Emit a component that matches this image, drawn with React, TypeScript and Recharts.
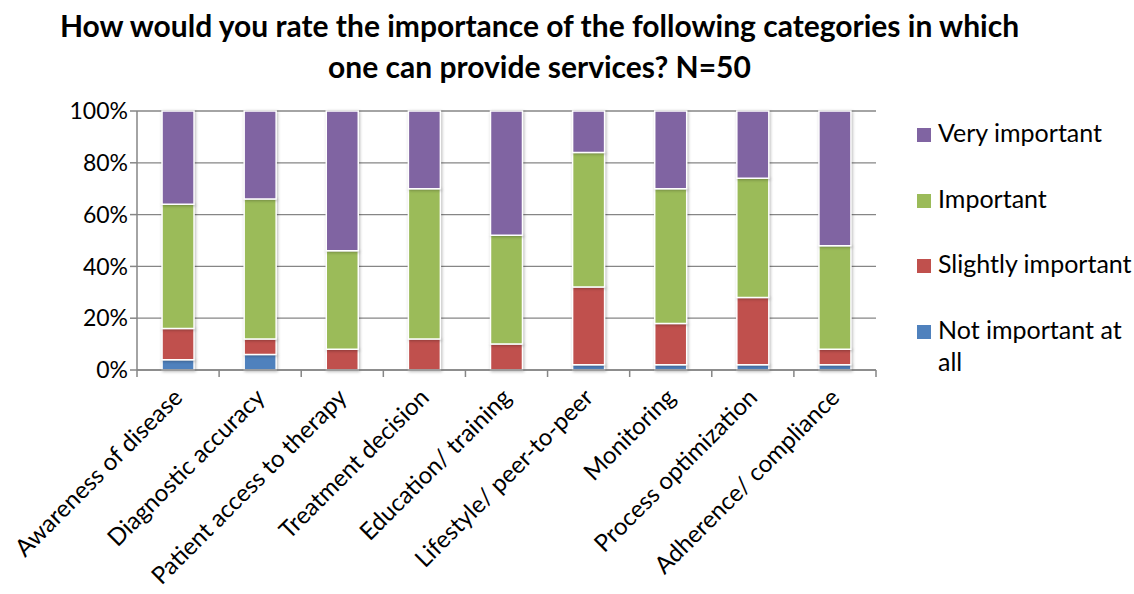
import React from "react";
import { Bar, BarChart, CartesianGrid, XAxis, YAxis } from "recharts";

const categories = [
  "Awareness of disease",
  "Diagnostic accuracy",
  "Patient access to therapy",
  "Treatment decision",
  "Education/ training",
  "Lifestyle/ peer-to-peer",
  "Monitoring",
  "Process optimization",
  "Adherence/ compliance",
];

// share of respondents per answer, in %
const notImportant = [4, 6, 0, 0, 0, 2, 2, 2, 2];
const slightlyImportant = [12, 6, 8, 12, 10, 30, 16, 26, 6];
const important = [48, 54, 38, 58, 42, 52, 52, 46, 40];
const veryImportant = [36, 34, 54, 30, 48, 16, 30, 26, 52];

const yTicks = [0, 20, 40, 60, 80, 100];

const series = [
  { key: "notImportant", name: "Not important at all", color: "#4F81BD" },
  { key: "slightly", name: "Slightly important", color: "#C0504D" },
  { key: "important", name: "Important", color: "#9BBB59" },
  { key: "very", name: "Very important", color: "#8064A2" },
];

const data = categories.map((name, i) => ({
  name,
  notImportant: notImportant[i],
  slightly: slightlyImportant[i],
  important: important[i],
  very: veryImportant[i],
}));

const FONT = "Lato, 'Open Sans', sans-serif";
const AXIS = "#868686";
const PLOT_LEFT = 137;
const PLOT_RIGHT = 876;
const BAND = (PLOT_RIGHT - PLOT_LEFT) / categories.length;

function CategoryTick(props: any) {
  const { x, y, payload, index } = props;
  const left = x - BAND / 2;
  const tx = x + 6;
  const ty = y + 21;
  return (
    <g>
      <line x1={left} y1={y - 8} x2={left} y2={y - 1} stroke={AXIS} strokeWidth={1.5} />
      {index === categories.length - 1 && (
        <line x1={left + BAND} y1={y - 8} x2={left + BAND} y2={y - 1} stroke={AXIS} strokeWidth={1.5} />
      )}
      <text
        x={tx}
        y={ty}
        transform={`rotate(-45, ${tx}, ${ty})`}
        textAnchor="end"
        fontSize={24}
        fill="#000"
        fontFamily={FONT}
      >
        {payload.value}
      </text>
    </g>
  );
}

export default function App() {
  const legendItems = [...series].reverse();
  return (
    <div style={{ position: "absolute", left: 0, top: 0, width: 1134, height: 594, background: "#fff", fontFamily: FONT }}>
      <style>{`.recharts-bar-rectangle path { filter: drop-shadow(1px 1px 1.5px rgba(0,0,0,0.28)); }`}</style>
      <div
        style={{
          position: "absolute",
          left: 0,
          top: 5,
          width: 1079,
          textAlign: "center",
          fontWeight: 700,
          fontSize: 30,
          lineHeight: "41px",
          color: "#000",
        }}
      >
        How would you rate the importance of the following categories in which
        <br />
        one can provide services? N=50
      </div>
      <BarChart
        width={1134}
        height={594}
        data={data}
        margin={{ top: 111, right: 258, left: 67, bottom: 10 }}
        barCategoryGap="30.5%"
      >
        <CartesianGrid vertical={false} stroke={AXIS} strokeWidth={1.3} />
        <XAxis
          dataKey="name"
          interval={0}
          height={214}
          tickLine={false}
          axisLine={{ stroke: AXIS, strokeWidth: 1.5 }}
          tick={<CategoryTick />}
        />
        <YAxis
          width={70}
          domain={[0, 100]}
          ticks={yTicks}
          tickFormatter={(v) => `${v}%`}
          axisLine={{ stroke: AXIS, strokeWidth: 1.5 }}
          tickLine={{ stroke: AXIS, strokeWidth: 1.5 }}
          tickSize={7}
          tick={{ fontSize: 23, fill: "#000", fontFamily: FONT }}
        />
        {series.map((s) => (
          <Bar
            key={s.key}
            dataKey={s.key}
            name={s.name}
            stackId="a"
            fill={s.color}
            stroke="#fff"
            strokeWidth={1.5}
            isAnimationActive={false}
          />
        ))}
      </BarChart>
      <div style={{ position: "absolute", left: 917, top: 0 }}>
        {legendItems.map((s, i) => (
          <div key={s.key} style={{ position: "absolute", top: 116 + i * 65.5, left: 0, display: "flex", alignItems: "flex-start", width: 220 }}>
            <div style={{ width: 14, height: 14, background: s.color, marginTop: 12, flex: "none" }} />
            <div style={{ marginLeft: 7, fontSize: 25, lineHeight: "32px", width: 200 }}>
              {s.name === "Not important at all" ? (
                <>
                  Not important at
                  <br />
                  all
                </>
              ) : (
                s.name
              )}
            </div>
          </div>
        ))}
      </div>
    </div>
  );
}
